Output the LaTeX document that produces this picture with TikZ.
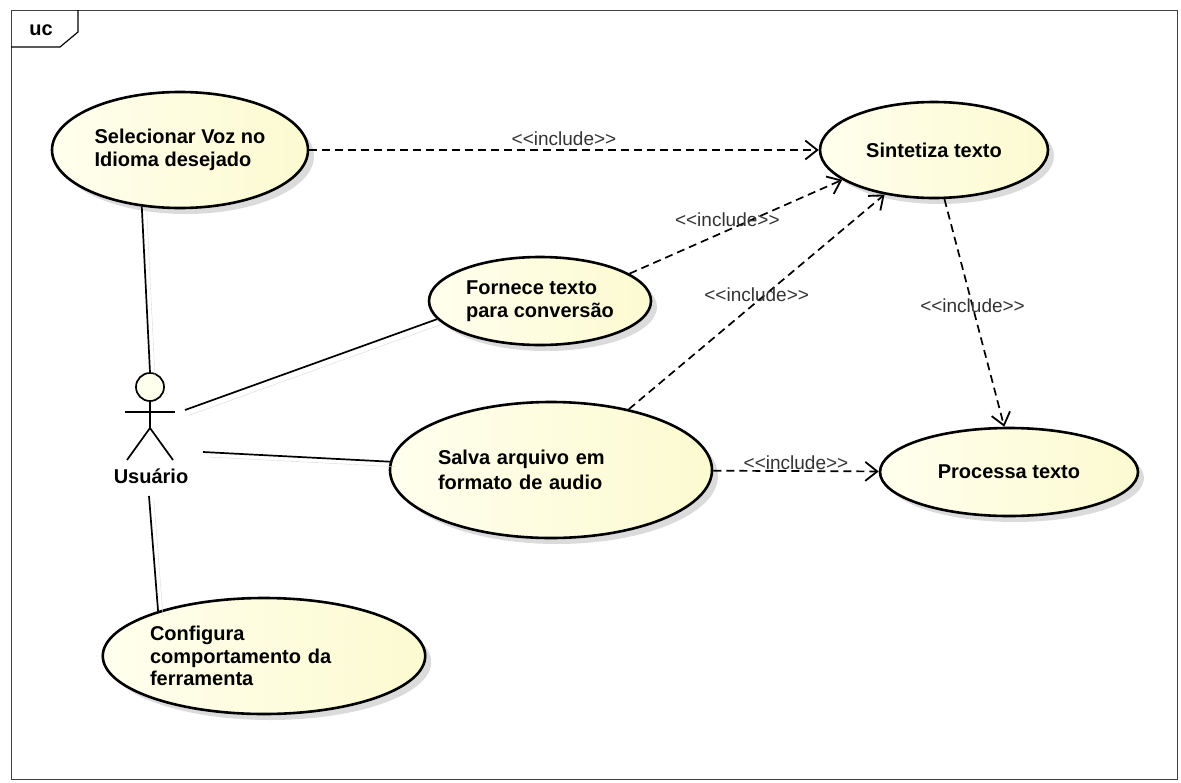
\documentclass[tikz,border=0pt]{standalone}
\usepackage{fontspec}
\setmainfont{Liberation Sans}
\newfontfamily\lblfont{Liberation Sans}
\usetikzlibrary{shapes.geometric,arrows.meta,shadows}

\definecolor{ucfill}{RGB}{252,250,208}
\definecolor{uclight}{RGB}{255,255,238}

\begin{document}
\begin{tikzpicture}
    [x=1pt,y=-1pt,
     uc/.style={ellipse,draw=black,line width=2.6pt,left color=uclight,right color=ucfill,
                inner sep=0pt,align=left,
                font=\fontsize{20}{22.5}\selectfont\bfseries,
                drop shadow={shadow xshift=6pt,shadow yshift=-6pt,fill=black!40,opacity=.35}},
     ghost/.style={preaction={draw=black!15,solid,-,transform canvas={shift={(5pt,-5pt)}}}},
     assoc/.style={line width=1.7pt,ghost},
     incl/.style={line width=1.7pt,dash pattern=on 8pt off 5pt,ghost,
                  -{Straight Barb[length=12pt,width=19pt,line width=1.8pt]}},
     lbl/.style={font=\fontsize{19}{22}\lblfont,text=black!80}]
    \useasboundingbox (0,0) rectangle (1181,782);

    % frame
    \draw[black!75,line width=1pt] (11,10) rectangle (1177,779);
    \draw[line width=1.2pt] (11,47) -- (60,47) -- (78,32) -- (78,10);
    \node[font=\fontsize{20}{22}\selectfont\bfseries] (uc) at (41,30) {uc};

    % use cases
    \node[uc,minimum width=256pt,minimum height=116pt] (sel) at (180,150) {Selecionar Voz no\\Idioma desejado};
    \node[uc,minimum width=228pt,minimum height=96pt] (sin) at (934,150) {Sintetiza texto};
    \node[uc,minimum width=222pt,minimum height=88pt] (forn) at (540,301) {Fornece texto\\para conversão};
    \node[uc,minimum width=322pt,minimum height=136pt,text width=226pt,
          font=\fontsize{20}{25}\selectfont\bfseries] (salva) at (551,470) {Salva arquivo em\\formato de audio};
    \node[uc,minimum width=258pt,minimum height=88pt] (proc) at (1009,472) {Processa texto};
    \node[uc,minimum width=322pt,minimum height=116pt,text width=228pt] (conf) at (264,656) {Configura\\comportamento da\\ferramenta};

    % actor
    \node[circle,draw,line width=1.7pt,fill=uclight,minimum size=28pt,inner sep=0pt] (head) at (150,387) {};
    \coordinate (hip) at (150,428);
    \draw[line width=1.7pt] (head.south) -- (hip) -- (127,460);
    \draw[line width=1.7pt] (hip) -- (173,460);
    \draw[line width=1.7pt] (125,412) -- (175,412);
    \node[font=\fontsize{20}{22}\selectfont\bfseries] (usr) at (151,476) {Usuário};
    \coordinate (a1) at (185,410);
    \coordinate (a2) at (203,452);
    \coordinate (a3) at (149,496);

    % associations
    \draw[assoc] (head.north) -- (sel.236);
    \draw[assoc] (a1) -- (forn.190);
    \draw[assoc] (a2) -- (salva);
    \draw[assoc] (a3) -- (conf.157);

    % includes
    \path[incl] (sel) edge node[lbl,above] {<<include>>} (sin)
                (forn.17) edge node[lbl,pos=.46,above] {<<include>>} (sin.198)
                (salva.38) edge node[lbl,pos=.5,yshift=7pt] {<<include>>} (sin.222)
                (sin.282) edge node[lbl,pos=.47] {<<include>>} (proc.96)
                (salva) edge node[lbl,above,inner sep=1pt] {<<include>>} (proc);
\end{tikzpicture}
\end{document}
